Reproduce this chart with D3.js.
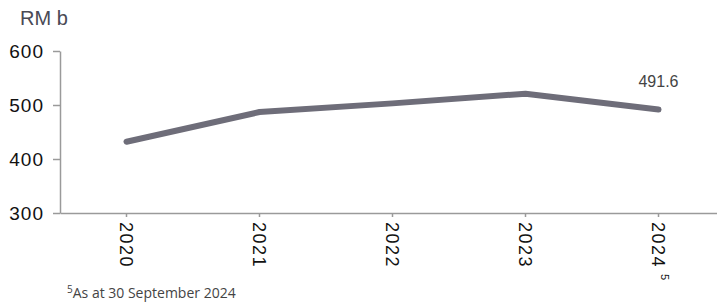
<!DOCTYPE html>
<html>
<head>
<meta charset="utf-8">
<script src="https://cdn.jsdelivr.net/npm/d3@7"></script>
<style>
  html, body { margin: 0; padding: 0; background: #fff; }
  svg { display: block; }
</style>
</head>
<body>
<svg id="chart" width="717" height="307"></svg>
<script>
const years = ["2020", "2021", "2022", "2023", "2024"];
const values = [432, 487, 503, 521, 491.6];
const yTicks = [300, 400, 500, 600];
const unitLabel = "RM b";
const endLabel = "491.6";
const footnoteMark = "5";
const footnoteText = "As at 30 September 2024";

const svg = d3.select("#chart");
const x = d3.scaleBand().domain(years).range([60, 725]).paddingInner(0).paddingOuter(0);
const y = d3.scaleLinear().domain([300, 600]).range([213, 51]);
const cx = d => x(d) + x.bandwidth() / 2;

// Y axis
const yAxis = svg.append("g").attr("transform", "translate(60,0)")
  .call(d3.axisLeft(y).tickValues(yTicks).tickSize(7).tickSizeOuter(0).tickPadding(9));
yAxis.select(".domain").attr("stroke", "#9a9a9a").attr("stroke-width", 1.5);
yAxis.selectAll(".tick line").attr("stroke", "#9a9a9a").attr("stroke-width", 1.5);
yAxis.selectAll(".tick text")
  .attr("fill", "#111").attr("font-family", "Liberation Sans, Arial, sans-serif")
  .attr("font-size", 19).attr("letter-spacing", 1);

// X axis
const xAxis = svg.append("g").attr("transform", `translate(0,${y(300)})`)
  .call(d3.axisBottom(x).tickSize(4).tickSizeOuter(0));
xAxis.select(".domain").attr("stroke", "#9a9a9a").attr("stroke-width", 1.5);
xAxis.selectAll(".tick line").attr("stroke", "#9a9a9a").attr("stroke-width", 1.5);
xAxis.selectAll(".tick text")
  .attr("transform", "rotate(90)")
  .attr("x", 9).attr("y", 0).attr("dy", "0.35em")
  .attr("text-anchor", "start")
  .attr("fill", "#111").attr("font-family", "Liberation Sans, Arial, sans-serif")
  .attr("font-size", 18).attr("letter-spacing", 1.5);
xAxis.selectAll(".tick text").filter(d => d === "2024")
  .append("tspan").attr("dx", 6).attr("dy", "-0.8em").attr("font-size", 11).attr("letter-spacing", 0)
  .text(footnoteMark);

// Line
const line = d3.line().x((d, i) => cx(years[i])).y(d => y(d));
svg.append("path").datum(values)
  .attr("d", line)
  .attr("fill", "none")
  .attr("stroke", "#6e6d79")
  .attr("stroke-width", 6)
  .attr("stroke-linecap", "round")
  .attr("stroke-linejoin", "round");

// End label
svg.append("text")
  .attr("x", cx("2024")).attr("y", 87)
  .attr("text-anchor", "middle")
  .attr("fill", "#444").attr("font-family", "Liberation Sans, Arial, sans-serif")
  .attr("font-size", 16)
  .text(endLabel);

// Unit label
svg.append("text")
  .attr("x", 20).attr("y", 25)
  .attr("fill", "#4a4a55").attr("font-family", "Liberation Sans, Arial, sans-serif")
  .attr("font-size", 20)
  .text(unitLabel);

// Footnote
const fn = svg.append("text")
  .attr("x", 67).attr("y", 298)
  .attr("fill", "#444").attr("font-family", "Open Sans, sans-serif")
  .attr("font-size", 14);
fn.append("tspan").attr("font-size", 10).attr("dy", -5).text(footnoteMark);
fn.append("tspan").attr("dy", 5).text(footnoteText);
</script>
</body>
</html>
